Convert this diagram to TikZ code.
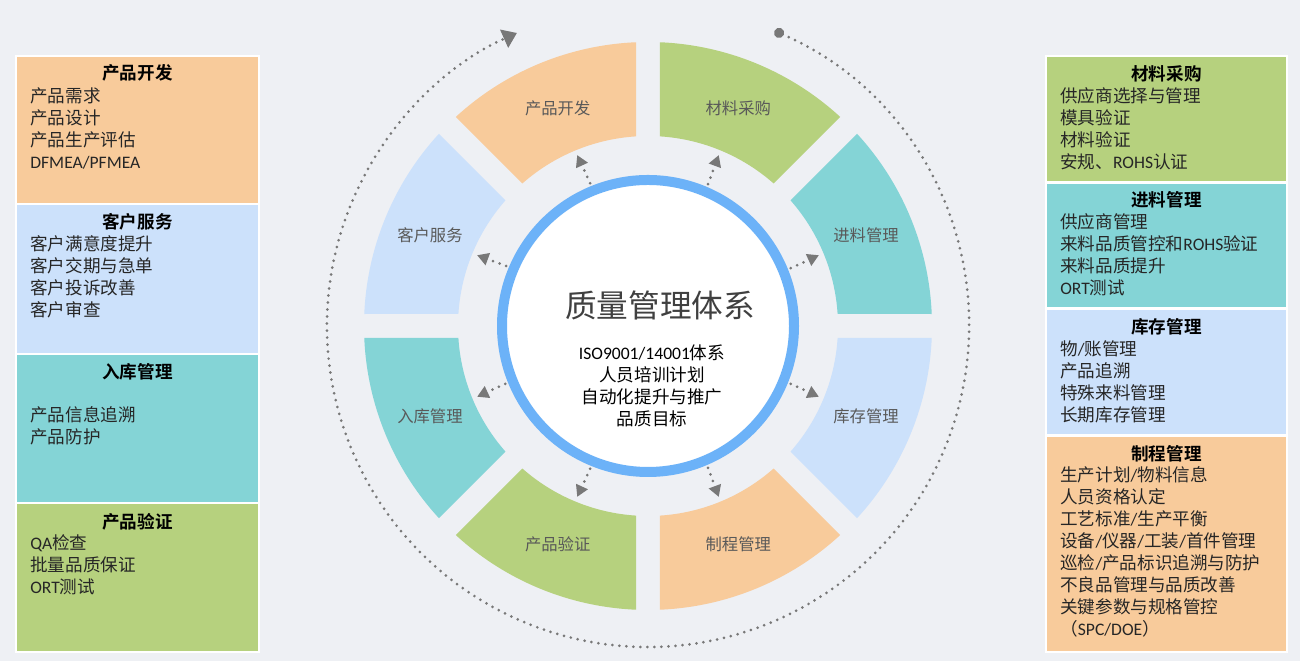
\documentclass[tikz,border=0pt]{standalone}
\usepackage{fontspec}
\setmainfont{Noto Sans CJK SC}[BoldFont={Noto Sans CJK SC Bold}]
\newfontfamily\latfont{Carlito}
\newcommand\latinrun[1]{{\latfont #1}}
\usepackage{xcolor}
\definecolor{canvasBg}{RGB}{238,240,244}
\definecolor{segOrange}{RGB}{248,203,155}
\definecolor{segGreen}{RGB}{182,209,126}
\definecolor{segTeal}{RGB}{132,212,214}
\definecolor{segBlue}{RGB}{204,225,251}
\definecolor{ringBlue}{RGB}{108,178,248}
\definecolor{dotGray}{RGB}{120,120,120}
\usepackage{tikz}
\usetikzlibrary{arrows.meta}
\tikzset{
  boxtitle/.style={font=\fontsize{10}{12.5}\selectfont\bfseries, text=black, inner sep=0pt},
  boxlist/.style={font=\fontsize{10}{12.5}\selectfont, text=black!85, align=left,
                  anchor=north west, inner sep=0pt},
  seglbl/.style={font=\fontsize{9.3}{11}\selectfont, text=black!65, inner sep=0pt},
  dotline/.style={line width=1.7pt, dotGray, line cap=round, dash pattern=on 0pt off 4pt},
  dotarrow/.style={dotline, -{Triangle[length=6.5pt,width=7pt]}, shorten <=0.6mm},
}

\begin{document}
\begin{tikzpicture}[x=0.2mm, y=0.2mm]
  \fill[canvasBg] (0,0) rectangle (1300,661);
  \useasboundingbox (0,0) rectangle (1300,661);

  % left column
  \fill[white] (15,8) rectangle (260,606);
  \fill[segOrange] (17,458) rectangle (258,604);
  \fill[segBlue] (17,308) rectangle (258,456);
  \fill[segTeal] (17,159) rectangle (258,306);
  \fill[segGreen] (17,10) rectangle (258,157);

  \node[boxtitle] (devT) at (137.5,588) {产品开发};
  \node[boxlist] (devL) at (30,574) {产品需求\\产品设计\\产品生产评估\\\latinrun{DFMEA/PFMEA}};
  \node[boxtitle] (svcT) at (137.5,439) {客户服务};
  \node[boxlist] (svcL) at (30,426) {客户满意度提升\\客户交期与急单\\客户投诉改善\\客户审查};
  \node[boxtitle] (inbT) at (137.5,289) {入库管理};
  \node[boxlist] (inbL) at (30,255) {产品信息追溯\\产品防护};
  \node[boxtitle] (verT) at (137.5,139) {产品验证};
  \node[boxlist] (verL) at (30,127) {\latinrun{QA}检查\\批量品质保证\\\latinrun{ORT}测试};

  % right column
  \fill[white] (1045,8) rectangle (1288,606);
  \fill[segGreen] (1047,480) rectangle (1286,604);
  \fill[segTeal] (1047,354) rectangle (1286,477);
  \fill[segBlue] (1047,227) rectangle (1286,351);
  \fill[segOrange] (1047,10) rectangle (1286,224);

  \node[boxtitle] (buyT) at (1166.5,587) {材料采购};
  \node[boxlist] (buyL) at (1060,574) {供应商选择与管理\\模具验证\\材料验证\\安规、\latinrun{ROHS}认证};
  \node[boxtitle] (iqcT) at (1166.5,461) {进料管理};
  \node[boxlist] (iqcL) at (1060,448) {供应商管理\\来料品质管控和\latinrun{ROHS}验证\\来料品质提升\\\latinrun{ORT}测试};
  \node[boxtitle] (stkT) at (1166.5,334) {库存管理};
  \node[boxlist] (stkL) at (1060,321) {物\latinrun{/}账管理\\产品追溯\\特殊来料管理\\长期库存管理};
  \node[boxtitle] (prcT) at (1166.5,207) {制程管理};
  \node[boxlist] (prcL) at (1060,195) {生产计划\latinrun{/}物料信息\\人员资格认定\\工艺标准\latinrun{/}生产平衡\\
    设备\latinrun{/}仪器\latinrun{/}工装\latinrun{/}首件管理\\巡检\latinrun{/}产品标识追溯与防护\\
    不良品管理与品质改善\\关键参数与规格管控\\（\latinrun{SPC/DOE}）};

  % wheel
  \begin{scope}[shift={(648,335)}]
    \draw[dotline, {Circle[length=5.7pt]}-{Triangle[length=8pt,width=11pt]}]
      (66.8:321) arc[start angle=66.8, end angle=-245.9, radius=321];

    \foreach \a/\clr/\lbl [count=\i] in {90/segOrange/产品开发, 45/segGreen/材料采购,
        0/segTeal/进料管理, -45/segBlue/库存管理, -90/segOrange/制程管理,
        -135/segGreen/产品验证, 180/segTeal/入库管理, 135/segBlue/客户服务}{
      \pgfmathsetmacro\m{\a+22.5}
      \fill[\clr] (\a+3.62:190) -- (\a+2.42:284)
        arc[start angle=\a+2.42, end angle=\a+42.58, radius=284]
        -- (\a+41.38:190) arc[start angle=\a+41.38, end angle=\a+3.62, radius=190] -- cycle;
      \node[seglbl] (seg\i) at (\m:236) {\lbl};
    }

    \node[circle, draw=ringBlue, fill=white, line width=2mm, minimum size=58.4mm,
          inner sep=0pt] (core) at (0,0) {};

    \foreach \m [count=\i] in {112.5,67.5,22.5,-22.5,-67.5,-112.5,202.5,157.5}{
      \coordinate (tip\i) at (\m:185);
      \draw[dotarrow] (core.\m) -- (tip\i);
    }
  \end{scope}

  \node[font=\fontsize{18}{20}\selectfont, text=black!75, inner sep=0pt] (qms) at (660,356) {质量管理体系};
  \node[font=\fontsize{10}{12.5}\selectfont, align=center, inner sep=0pt] (qmsL) at (652,275)
    {\latinrun{ISO9001/14001}体系\\人员培训计划\\自动化提升与推广\\品质目标};
\end{tikzpicture}
\end{document}
